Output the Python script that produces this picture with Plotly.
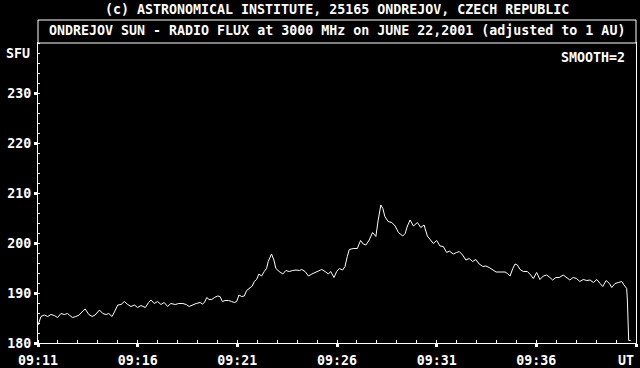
import pandas as pd
import plotly.graph_objects as go

# seconds after 09:11:00 UT (2001-06-22)
seconds = [0, 9, 19, 29, 39, 49, 59, 69, 79, 89, 94, 104, 114, 124, 135, 142, 153, 163, 172, 185,
           195, 205, 213, 223, 233, 240, 250, 260, 270, 280, 290, 300, 310, 323, 333, 340, 350, 360,
           370, 380, 390, 400, 413, 424, 436, 446, 455, 466, 476, 488, 495, 501, 508, 515, 523, 531,
           541, 548, 555, 563, 573, 583, 591, 598, 605, 613, 621, 628, 635, 645, 651, 658, 665, 673,
           681, 688, 693, 703, 710, 716, 726, 737, 746, 756, 767, 777, 787, 794, 804, 814, 824, 834,
           844, 854, 864, 874, 881, 891, 899, 907, 917, 924, 931, 937, 949, 961, 971, 979, 987, 997,
           1007, 1017, 1024, 1032, 1038, 1044, 1054, 1065, 1075, 1085, 1098, 1105, 1112, 1120, 1130,
           1142, 1152, 1162, 1172, 1182, 1190, 1200, 1210, 1220, 1230, 1238, 1250, 1260, 1268, 1278,
           1288, 1298, 1308, 1318, 1328, 1339, 1348, 1358, 1369, 1379, 1391, 1406, 1413, 1421, 1429,
           1436, 1443, 1451, 1461, 1473, 1483, 1491, 1501, 1511, 1521, 1531, 1541, 1549, 1559, 1569,
           1581, 1591, 1601, 1611, 1621, 1631, 1641, 1652, 1662, 1672, 1682, 1692, 1700, 1710, 1720,
           1727, 1737, 1747, 1757, 1764, 1772, 1774, 1776, 1778, 1784]

# radio flux, SFU
flux = [183.6, 185.3, 185.6, 185.3, 185.7, 185.5, 185.1, 185.9, 185.7, 185.9, 185.6, 185.1, 185.3,
        185.6, 186.4, 186.8, 185.7, 185.3, 185.6, 186.6, 185.9, 185.7, 185.9, 185.3, 186.6, 187.6,
        187.7, 188.3, 187.7, 187.3, 187.6, 187.1, 187.5, 187.1, 188.1, 188.6, 187.9, 188.3, 187.7,
        188.1, 187.3, 187.9, 187.7, 187.9, 187.9, 187.7, 187.3, 187.7, 187.9, 188.1, 187.8, 188.1,
        189.1, 188.7, 188.7, 189.1, 189.4, 189.3, 188.3, 188.5, 188.5, 188.3, 188.1, 188.3, 189.6,
        189.3, 189.4, 190.5, 190.9, 191.4, 192.3, 192.7, 193.8, 193.4, 194.3, 194.9, 196.3, 197.8,
        196.6, 194.9, 194.3, 193.8, 194.5, 194.3, 194.5, 194.6, 194.5, 194.7, 194.3, 193.4, 193.8,
        194.1, 194.3, 194.7, 194.3, 193.8, 194.3, 193.1, 194.3, 194.9, 194.6, 195.3, 197.3, 198.7,
        198.9, 198.9, 200.5, 199.8, 199.6, 200.6, 202.1, 201.3, 204.6, 207.6, 206.9, 205.3, 204.3,
        204.1, 203.4, 202.1, 201.4, 201.9, 203.4, 204.6, 203.4, 204.1, 203.1, 203.6, 201.4, 200.6,
        199.9, 200.5, 199.4, 199.3, 198.1, 198.4, 197.8, 198.1, 198.3, 197.6, 196.6, 196.9, 196.3,
        196.7, 195.8, 195.3, 195.4, 195.1, 194.7, 194.2, 194.2, 194.2, 193.9, 193.4, 194.9, 195.8,
        195.6, 194.7, 194.3, 194.3, 193.6, 192.9, 194.1, 192.7, 193.4, 193.6, 193.1, 192.6, 193.1,
        193.1, 193.6, 193.1, 192.6, 193.1, 192.9, 192.3, 192.7, 192.5, 192.6, 192.1, 192.7, 191.9,
        191.3, 192.5, 191.9, 191.1, 191.9, 192.1, 192.3, 191.6, 190.9, 188.6, 183.1, 180.5, 180.5]

x_ticks = ["09:11", "09:16", "09:21", "09:26", "09:31", "09:36", "09:41"]
x_labels = ["09:11", "09:16", "09:21", "09:26", "09:31", "09:36", ""]
y_ticks = [180, 190, 200, 210, 220, 230]

day = "2001-06-22 "
t0 = pd.Timestamp(day + "09:11:00")
times = [t0 + pd.Timedelta(seconds=s) for s in seconds]
tickvals = [pd.Timestamp(day + t + ":00") for t in x_ticks]

FONT = "DejaVu Sans Mono"
WHITE = "#ffffff"
TXT = dict(family=FONT, size=13.3, color=WHITE, weight="bold")

fig = go.Figure()
fig.add_trace(go.Scatter(x=times, y=flux, mode="lines",
                         line=dict(color=WHITE, width=1), hoverinfo="skip"))

fig.update_layout(
    width=640, height=368,
    margin=dict(l=38, r=4, t=43, b=25, autoexpand=False),
    paper_bgcolor="black", plot_bgcolor="black",
    showlegend=False,
    font=TXT,
)

fig.update_xaxes(
    type="date",
    range=[tickvals[0], tickvals[-1]],
    tickvals=tickvals, ticktext=x_labels,
    ticks="outside", ticklen=3, tickwidth=3, tickcolor=WHITE,
    minor=dict(ticks="inside", ticklen=3, tickwidth=1, tickcolor=WHITE,
               dtick=60000, tick0=tickvals[0], showgrid=False),
    showline=True, linecolor=WHITE, linewidth=1, mirror=True,
    showgrid=False, zeroline=False, automargin=False,
    ticklabelstandoff=2,
    tickfont=TXT,
)

fig.update_yaxes(
    range=[180, 240],
    tickvals=y_ticks,
    ticks="outside", ticklen=3, tickwidth=3, tickcolor=WHITE,
    minor=dict(ticks="inside", ticklen=2, tickwidth=1, tickcolor=WHITE,
               dtick=2, tick0=180, showgrid=False),
    showline=True, linecolor=WHITE, linewidth=1, mirror=True,
    showgrid=False, zeroline=False, automargin=False,
    tickfont=TXT,
)

# header box
fig.add_shape(type="rect", xref="paper", yref="paper",
              x0=0, x1=1, y0=1, y1=1 + 23 / 300,
              line=dict(color=WHITE, width=1), fillcolor="black")

fig.add_annotation(text="(c) ASTRONOMICAL INSTITUTE, 25165 ONDREJOV, CZECH REPUBLIC",
                   xref="paper", yref="paper", x=0.5, y=1.113, showarrow=False,
                   xanchor="center", yanchor="middle", font=TXT)
fig.add_annotation(text="ONDREJOV SUN - RADIO FLUX at 3000 MHz on JUNE 22,2001 (adjusted to 1 AU)",
                   xref="paper", yref="paper", x=0.5, y=1.04, showarrow=False,
                   xanchor="center", yanchor="middle", font=TXT)
fig.add_annotation(text="SMOOTH=2", xref="paper", yref="paper", x=0.985, y=0.953,
                   showarrow=False, xanchor="right", yanchor="middle", font=TXT)
fig.add_annotation(text="SFU", xref="paper", yref="y", x=0, y=238, xshift=-6,
                   showarrow=False, xanchor="right", yanchor="middle", font=TXT)
fig.add_annotation(text="UT", xref="paper", yref="paper", x=1, y=0, yshift=-17,
                   showarrow=False, xanchor="right", yanchor="middle", font=TXT)

fig.write_html("out.html")
